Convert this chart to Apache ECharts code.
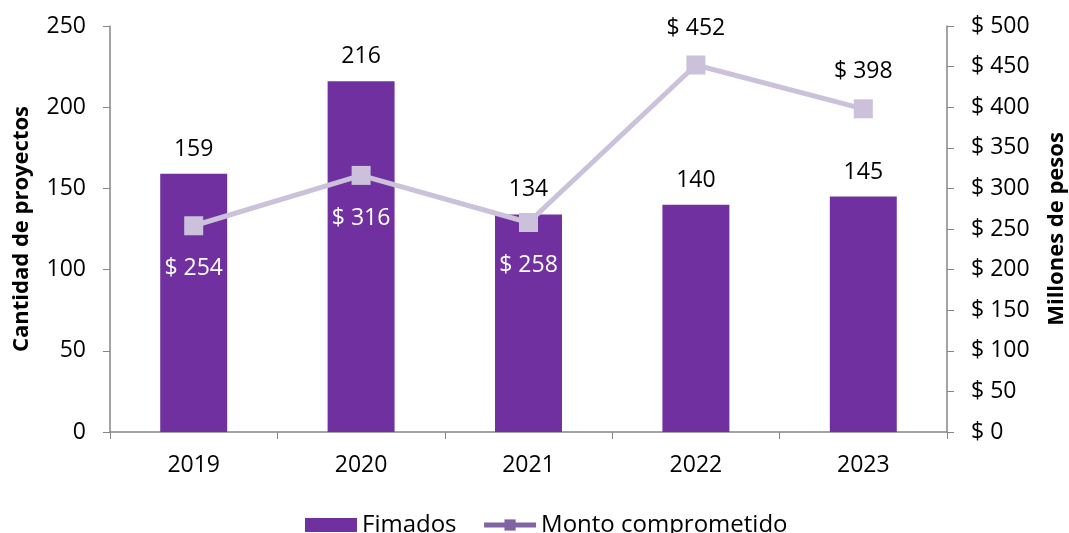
<!DOCTYPE html>
<html><head><meta charset="utf-8">
<script src="https://cdn.jsdelivr.net/npm/echarts@6/dist/echarts.min.js"></script>
<style>html,body{margin:0;padding:0;background:#fff}#c{width:1069px;height:533px}</style>
</head><body><div id="c"></div>
<script>
const categories = ['2019','2020','2021','2022','2023'];
const firmados = [159, 216, 134, 140, 145];
const monto = [254, 316, 258, 452, 398];
const montoLabelPos = ['bottom','bottom','bottom','top','top'];
const leftTicks = [0,50,100,150,200,250];
const rightTicks = [0,50,100,150,200,250,300,350,400,450,500];

const font = 'Open Sans, Liberation Sans, sans-serif';
const fs = 23;
const axisColor = '#868686';
const chart = echarts.init(document.getElementById('c'));
chart.setOption({
  animation:false,
  grid:{left:110,right:122,top:26,bottom:101,containLabel:false,outerBoundsMode:'none'},
  legend:{
    bottom:-9, left:300, itemGap:25, itemWidth:52, itemHeight:14,
    textStyle:{fontFamily:font,fontSize:24,color:'#000'},
    data:[
      {name:'Fimados', icon:'rect'},
      {name:'Monto comprometido', itemStyle:{color:'#8064A2'}, lineStyle:{color:'#8064A2', width:5}}
    ]
  },
  xAxis:{type:'category',data:categories,
    axisLine:{lineStyle:{color:axisColor,width:1.5}},
    axisTick:{show:true,alignWithLabel:false,length:7,lineStyle:{color:axisColor}},
    axisLabel:{fontFamily:font,fontSize:fs,color:'#000',margin:22}},
  yAxis:[
    {type:'value',min:0,max:250,interval:50,
     name:'Cantidad de proyectos',nameLocation:'middle',nameGap:77,nameRotate:90,
     nameTextStyle:{fontFamily:font,fontSize:22,fontWeight:'bold',color:'#000'},
     axisLine:{show:true,lineStyle:{color:axisColor,width:1.5}},
     axisTick:{show:true,length:7,lineStyle:{color:axisColor}},
     splitLine:{show:false},
     axisLabel:{fontFamily:font,fontSize:fs,color:'#000',margin:24}},
    {type:'value',min:0,max:500,interval:50,position:'right',
     name:'Millones de pesos',nameLocation:'middle',nameGap:99,nameRotate:90,
     nameTextStyle:{fontFamily:font,fontSize:22,fontWeight:'bold',color:'#000'},
     axisLine:{show:true,lineStyle:{color:axisColor,width:1.5}},
     axisTick:{show:true,length:7,lineStyle:{color:axisColor}},
     splitLine:{show:false},
     axisLabel:{fontFamily:font,fontSize:fs,color:'#000',margin:24,formatter:v=>'$ '+v}}
  ],
  series:[
    {name:'Fimados',type:'bar',data:firmados,barWidth:'40%',
     itemStyle:{color:'#7030A0'},
     label:{show:true,position:'top',distance:13,fontFamily:font,fontSize:fs,color:'#000'}},
    {name:'Monto comprometido',type:'line',yAxisIndex:1,
     data:monto.map((v,i)=>({value:v,label:{position:montoLabelPos[i],
        distance: montoLabelPos[i]==='bottom' ? 22 : 16,
        color: montoLabelPos[i]==='bottom' ? '#fff' : '#000'}})),
     symbol:'rect',symbolSize:19,
     lineStyle:{color:'#CCC1DA',width:5},
     itemStyle:{color:'#CCC1DA'},
     label:{show:true,fontFamily:font,fontSize:fs,formatter:p=>'$ '+p.value}}
  ]
});
</script></body></html>
